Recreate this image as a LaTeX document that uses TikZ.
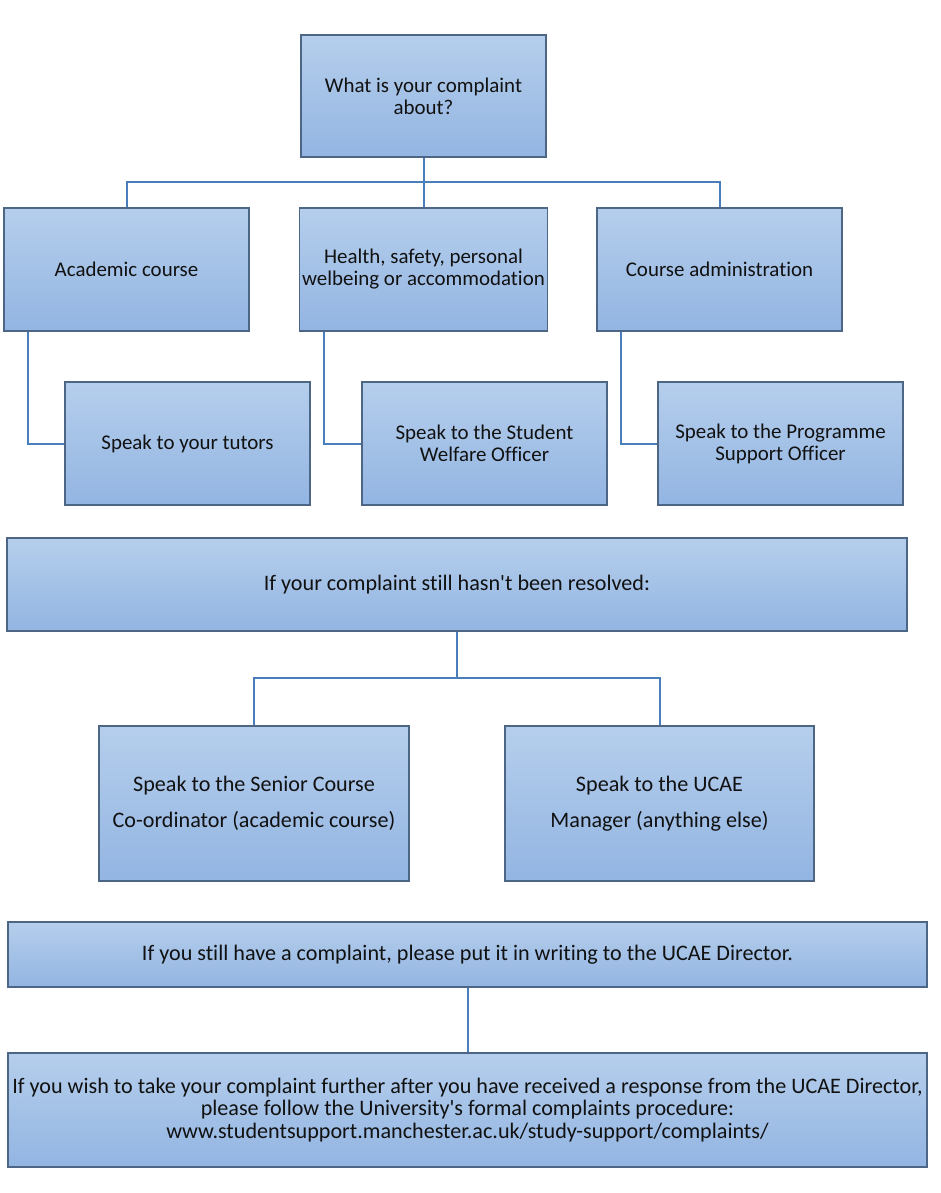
\documentclass[tikz,border=0pt]{standalone}
\usepackage{fontspec}
\setmainfont{Carlito}[Ligatures={NoCommon}]
\begin{document}
\begin{tikzpicture}[x=0.75pt,y=-0.75pt,
  box/.style 2 args={draw=boxedge, line width=0.8pt, rectangle, top color=boxtop, bottom color=boxbot,
     minimum width=#1*0.75pt, minimum height=#2*0.75pt, inner sep=2pt, align=center,
     font=\fontsize{15.7pt}{16.5pt}\selectfont, text=textc},
  big/.style={font=\fontsize{16.6pt}{17pt}\selectfont},
  conn/.style={draw=connc, line width=1.5pt}]
\definecolor{boxtop}{HTML}{B5CEEC}
\definecolor{boxbot}{HTML}{93B5E2}
\definecolor{boxedge}{HTML}{4D6685}
\definecolor{connc}{HTML}{4A7EBB}
\definecolor{textc}{HTML}{111111}
\useasboundingbox (0,0) rectangle (940,1193);

\node[box={245}{122}] (q) at (423.5,96) {What is your complaint\\about?};
\node[box={245}{123}] (ac) at (126.5,269.5) {Academic course};
\node[box={245}{123}] (hs) at (423.5,269.5) {Health, safety, personal\\welbeing or accommodation};
\node[box={245}{123}] (ca) at (719.5,269.5) {Course administration};
\node[box={245}{123}] (tu) at (187.5,443.5) {Speak to your tutors};
\node[box={245}{123}] (sw) at (484.5,443.5) {Speak to the Student\\Welfare Officer};
\node[box={245}{123}] (ps) at (780.5,443.5) {Speak to the Programme\\Support Officer};
\node[box={900}{93}, big] (nr) at (457,584.5) {If your complaint still hasn\textquotesingle t been resolved:};
\node[box={310}{155}, big] (sc) at (254,803.5) {Speak to the Senior Course\\[10pt]Co-ordinator (academic course)};
\node[box={309}{155}, big] (um) at (659.5,803.5) {Speak to the UCAE\\[10pt]Manager (anything else)};
\node[box={919}{65}, big] (sh) at (467.5,954.5) {If you still have a complaint, please put it in writing to the UCAE Director.};
\node[box={919}{114}, big] (fu) at (467.5,1110) {If you wish to take your complaint further after you have received a response from the UCAE Director,\\please follow the University\textquotesingle s formal complaints procedure:\\www.studentsupport.manchester.ac.uk/study-support/complaints/};

\coordinate (j1) at (423.5,182);
\draw[conn] (q.south) -- (hs.north);
\draw[conn] (ac.north) |- (j1) -| (ca.north);
\draw[conn] (ac.south west) ++(25,0) coordinate (a1) |- (tu.west);
\draw[conn] (hs.south west) ++(25,0) coordinate (h1) |- (sw.west);
\draw[conn] (ca.south west) ++(25,0) coordinate (c1) |- (ps.west);
\coordinate (j2) at (457,678);
\draw[conn] (nr.south) -- (j2);
\draw[conn] (sc.north) |- (j2) -| (um.north);
\draw[conn] (sh.south) -- (fu.north);
\end{tikzpicture}
\end{document}
